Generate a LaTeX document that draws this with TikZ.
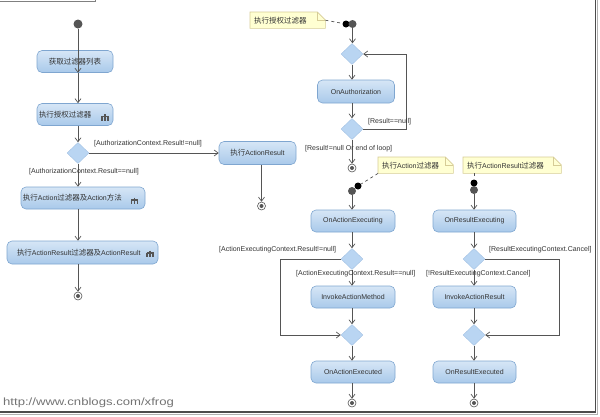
\documentclass[tikz,border=0pt]{standalone}
\usepackage{fontspec}
\setmainfont{Liberation Sans}
\newfontfamily\cjk[Scale=1.07]{Noto Sans CJK SC}
\newfontfamily\urlfont[FakeStretch=1.25]{Liberation Sans}
\usetikzlibrary{arrows.meta,shapes.geometric,calc,backgrounds}
\definecolor{boxtop}{HTML}{D6E6F6}
\definecolor{boxbot}{HTML}{A9C9EA}
\definecolor{boxline}{HTML}{7FA6D0}
\definecolor{dfill}{HTML}{B9D5F2}
\definecolor{dline}{HTML}{A3C2E4}
\definecolor{notefill}{HTML}{FFFFD2}
\definecolor{noteline}{HTML}{D6CC96}
\definecolor{lin}{HTML}{555555}
\definecolor{initc}{HTML}{555555}
\definecolor{txt}{HTML}{333333}
\newcommand\zh[1]{{\cjk #1}}
\newcommand\notepath[1]{%
  \path[notec] (#1.north west) -- ($(#1.north east)+(-8,0)$) -- ($(#1.north east)+(0,8)$) -- (#1.south east) -- (#1.south west) -- cycle;
  \draw[draw=noteline,line width=0.6pt] ($(#1.north east)+(-8,0)$) -- ($(#1.north east)+(-8,8)$) -- ($(#1.north east)+(0,8)$);}
\begin{document}
\begin{tikzpicture}[x=1pt,y=-1pt,
  font=\fontsize{7}{8}\selectfont,
  act/.style={draw=boxline, line width=0.6pt, rounded corners=5pt, top color=boxtop, bottom color=boxbot, minimum height=22pt, inner sep=0pt, text=txt},
  dec/.style={diamond, draw=dline, fill=dfill, minimum width=22pt, minimum height=21pt, inner sep=0pt},
  fin/.style={circle, draw=lin, line width=0.6pt, minimum size=8pt, inner sep=0pt, path picture={\fill[lin] (path picture bounding box.center) circle (2pt);}},
  initn/.style={circle, fill=initc, minimum size=9pt, inner sep=0pt},
  bdot/.style={circle, fill=black, minimum size=7pt, inner sep=0pt},
  gdot/.style={circle, fill=initc, minimum size=8pt, inner sep=0pt},
  lbl/.style={anchor=west, inner sep=0pt, text=txt},
  arr/.style={draw=lin, line width=0.7pt, -{Straight Barb[length=4pt,width=6pt]}},
  notec/.style={draw=noteline, fill=notefill, line width=0.6pt},
  notebox/.style={minimum height=16pt, inner sep=0pt, anchor=north west, text=txt},
  dsh/.style={draw=lin, line width=0.7pt, dash pattern=on 3pt off 3pt},
  rake/.pic={\draw[lin, line width=1.1pt] (0,-2.5)--(0,0) (-3.5,0)--(3.5,0) (-3,-0.5)--(-3,4) (0,0)--(0,4) (3,-0.5)--(3,4);}
]
\useasboundingbox (0,0) rectangle (600,416);

% frame
\draw[gray, line width=0.8pt] (0,1.5) -- (95,1.5) -- (95,0);
\draw[gray!60, line width=1pt] (597.8,0) -- (597.8,414.3) -- (0,414.3);
\draw[black!70, line width=1.2pt] (595.6,0) -- (595.6,412) -- (0,412);
\node[anchor=west, inner sep=0pt, text=black!55, font=\urlfont\fontsize{10.5}{11}\selectfont] (url) at (3,403) {http://www.cnblogs.com/xfrog};

% left column
\node[initn] (init0) at (78,24) {};
\node[act, minimum width=76pt] (get) at (75,61.5) {\zh{获取过滤器列表}};
\node[act, minimum width=76pt, text width=72pt, align=left] (auth) at (75,114.5) {\zh{执行授权过滤器}};
\pic at (105,116.5) {rake};
\node[dec] (d0) at (78,153) {};
\node[act, minimum width=77pt, minimum height=23pt] (ar) at (257.5,153) {\zh{执行}ActionResult};
\node[act, minimum width=124pt, text width=120pt, align=left] (actf) at (83,198) {\zh{执行}Action\zh{过滤器及}Action\zh{方法}};
\pic at (134.5,200) {rake};
\node[act, minimum width=151pt, minimum height=23pt, text width=131pt, align=left] (resf) at (82.5,252.5) {\zh{执行}ActionResult\zh{过滤器及}ActionResult};
\pic at (150,253) {rake};
\node[fin] (fin0) at (78,296) {};
\node[fin] (fin1) at (261.5,206) {};

\draw[arr] (init0) -- (get.south -| init0) ;
\draw[arr] (get.south -| init0) -- (auth.north -| init0);
\draw[arr] (auth.south -| init0) -- (d0.north);
\draw[arr] (d0.south) -- (actf.north -| d0);
\draw[arr] (actf.south -| d0) -- (resf.north -| d0);
\draw[arr] (resf.south -| d0) -- (fin0);
\draw[arr] (d0.east) -- (ar.west);
\draw[arr] (ar.south -| fin1) -- (fin1);
\node[lbl] (l1) at (94,144) {[AuthorizationContext.Result!=null]};
\node[lbl] (l2) at (29,172) {[AuthorizationContext.Result==null]};

% authorization column
\node[notebox, minimum width=75pt, text width=71pt, align=left] (note1) at (250,12) {\hspace*{2pt}\zh{执行授权过滤器}};
\node[bdot] (bd1) at (346,24) {};
\node[gdot] (gd1) at (352.5,24) {};
\node[dec] (d1) at (352,54) {};
\node[act, minimum width=77pt, minimum height=23pt] (oauth) at (356,91.5) {OnAuthorization};
\node[dec] (d2) at (352,129) {};
\node[fin] (fin2) at (352,168) {};
\coordinate (loopA) at (406,129);
\draw[dsh] (note1.east) -- (bd1);
\draw[arr] (gd1) -- (d1.north -| gd1);
\draw[arr] (d1.south) -- (oauth.north -| d1);
\draw[arr] (oauth.south -| d1) -- (d2.north);
\draw[arr] (d2.east) -- (loopA) |- (d1.east);
\draw[arr] (d2.south) -- (fin2);
\node[lbl] (l3) at (368,121.5) {[Result==null]};
\node[lbl] (l4) at (305,148.5) {[Result!=null Or end of loop]};

% action column
\node[notebox, minimum width=75pt, text width=71pt, align=left] (note2) at (378,157) {\hspace*{2pt}\zh{执行}Action\zh{过滤器}};
\node[bdot] (bd2) at (358,186) {};
\node[gdot] (gd2) at (352,191) {};
\node[act, minimum width=84pt] (oae) at (353,221) {OnActionExecuting};
\node[dec] (dA1) at (352,259) {};
\node[act, minimum width=84pt] (iam) at (353,297) {InvokeActionMethod};
\node[dec] (dA2) at (352,335) {};
\node[act, minimum width=84pt] (oaed) at (353,372) {OnActionExecuted};
\node[fin] (fin3) at (352,403) {};
\coordinate (loopB) at (280,259);
\draw[dsh] (note2.south west) -- (bd2);
\draw[arr] (gd2) -- (oae.north -| gd2);
\draw[arr] (oae.south -| dA1) -- (dA1.north);
\draw[arr] (dA1.south) -- (iam.north -| dA1);
\draw[arr] (iam.south -| dA1) -- (dA2.north);
\draw[arr] (dA1.west) -- (loopB) |- (dA2.west);
\draw[arr] (dA2.south) -- (oaed.north -| dA2);
\draw[arr] (oaed.south -| dA2) -- (fin3);
\node[lbl] (l5) at (219,249.5) {[ActionExecutingContext.Result!=null]};
\node[lbl] (l6) at (296,274) {[ActionExecutingContext.Result==null]};

% result column
\node[notebox, minimum width=98pt, text width=94pt, align=left] (note3) at (463,157) {\hspace*{2pt}\zh{执行}ActionResult\zh{过滤器}};
\node[bdot] (bd3) at (474,183) {};
\node[gdot] (gd3) at (474,190) {};
\node[act, minimum width=83pt] (ore) at (474.5,221) {OnResultExecuting};
\node[dec] (dR1) at (474,259) {};
\node[act, minimum width=83pt] (iar) at (474.5,297) {InvokeActionResult};
\node[dec] (dR2) at (474,335) {};
\node[act, minimum width=83pt] (ored) at (474.5,372) {OnResultExecuted};
\node[fin] (fin4) at (474,403) {};
\coordinate (loopC) at (559,259);
\draw[dsh] (note3.south -| bd3) -- (bd3);
\draw[arr] (gd3) -- (ore.north -| gd3);
\draw[arr] (ore.south -| dR1) -- (dR1.north);
\draw[arr] (dR1.south) -- (iar.north -| dR1);
\draw[arr] (iar.south -| dR1) -- (dR2.north);
\draw[arr] (dR1.east) -- (loopC) |- (dR2.east);
\draw[arr] (dR2.south) -- (ored.north -| dR2);
\draw[arr] (ored.south -| dR2) -- (fin4);
\node[lbl] (l7) at (489,249.5) {[ResultExecutingContext.Cancel]};
\node[lbl] (l8) at (426,274) {[!ResultExecutingContext.Cancel]};

\begin{scope}[on background layer]
\notepath{note1}
\notepath{note2}
\notepath{note3}
\end{scope}
\end{tikzpicture}
\end{document}
